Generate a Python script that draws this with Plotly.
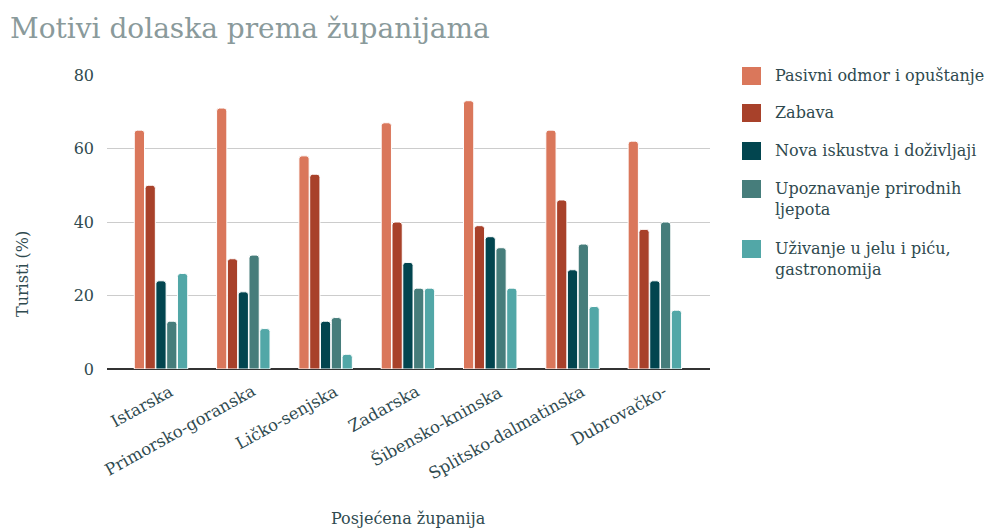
import plotly.graph_objects as go

counties = ["Istarska", "Primorsko-goranska", "Ličko-senjska", "Zadarska",
            "Šibensko-kninska", "Splitsko-dalmatinska", "Dubrovačko-"]
series_names = ["Pasivni odmor i opuštanje", "Zabava", "Nova iskustva i doživljaji",
                "Upoznavanje prirodnih<br>ljepota", "Uživanje u jelu i piću,<br>gastronomija"]
pasivni = [65, 71, 58, 67, 73, 65, 62]
zabava = [50, 30, 53, 40, 39, 46, 38]
nova = [24, 21, 13, 29, 36, 27, 24]
upoznavanje = [13, 31, 14, 22, 33, 34, 40]
uzivanje = [26, 11, 4, 22, 22, 17, 16]
y_ticks = [0, 20, 40, 60, 80]

values = [pasivni, zabava, nova, upoznavanje, uzivanje]
colors = ["#DA775B", "#A8412A", "#02454F", "#467D7B", "#52A7A7"]

FONT = "DejaVu Serif"
TXT = "#2F4A4F"

# screen geometry of the plot area (page has an 8px body margin)
PX0, PX1, PY0, PY1 = 107, 710, 75, 369
PW, PH = PX1 - PX0, PY1 - PY0


def px(x):
    return (x - PX0) / PW


def py(y):
    return (PY1 - y) / PH


fig = go.Figure()
for name, vals, col in zip(series_names, values, colors):
    fig.add_trace(go.Bar(x=counties, y=vals, name=name, marker_color=col,
                         marker_line=dict(color="white", width=1), showlegend=False))

# custom legend
legend_y = [76, 113, 151, 189, 249]
for name, col, yy in zip(series_names, colors, legend_y):
    fig.add_shape(type="rect", xref="paper", yref="paper",
                  x0=px(742), x1=px(761), y0=py(yy + 9), y1=py(yy - 9),
                  fillcolor=col, line=dict(color=col, width=0))
    fig.add_annotation(xref="paper", yref="paper", x=px(773),
                       y=py(yy - 12), text=name, showarrow=False,
                       xanchor="left", yanchor="top", align="left",
                       font=dict(family=FONT, size=16, color=TXT))

# slanted category labels
for c in counties:
    fig.add_annotation(xref="x", yref="y", x=c, y=0, text=c, showarrow=False,
                       textangle=-29, xanchor="right", yanchor="top",
                       xshift=18, yshift=-10,
                       font=dict(family=FONT, size=16.5, color=TXT))

fig.add_annotation(xref="paper", yref="paper", x=px(22), y=py(274),
                   text="Turisti (%)", textangle=-90, showarrow=False,
                   xanchor="center", yanchor="middle",
                   font=dict(family=FONT, size=16, color=TXT))
fig.add_annotation(xref="paper", yref="paper", x=px(408), y=py(519),
                   text="Posjećena županija", showarrow=False,
                   xanchor="center", yanchor="middle",
                   font=dict(family=FONT, size=16, color=TXT))

fig.update_layout(
    width=986, height=523,
    margin=dict(l=PX0 - 8, r=986 - (PX1 - 8), t=PY0 - 8, b=523 - (PY1 - 8)),
    paper_bgcolor="white", plot_bgcolor="white",
    barmode="group", bargap=0.344, bargroupgap=0.05, barcornerradius=3,
    font=dict(family=FONT, size=16, color=TXT),
    title=dict(text="Motivi dolaska prema županijama", x=2 / 986, xanchor="left",
               y=1 - 20 / 523, yanchor="middle",
               font=dict(family=FONT, size=28, color="#8A9A9B")),
    xaxis=dict(range=[-0.656, 6.67], autorange=False, showgrid=False, ticks="",
               showline=False, showticklabels=False),
    yaxis=dict(range=[0, 80], tickvals=y_ticks, showgrid=True, gridcolor="#CCCCCC",
               gridwidth=1, zeroline=True, zerolinecolor="#333333", zerolinewidth=1.5,
               ticks="", ticklabelstandoff=12,
               tickfont=dict(family=FONT, size=16, color=TXT)),
)
fig.write_html("out.html")
